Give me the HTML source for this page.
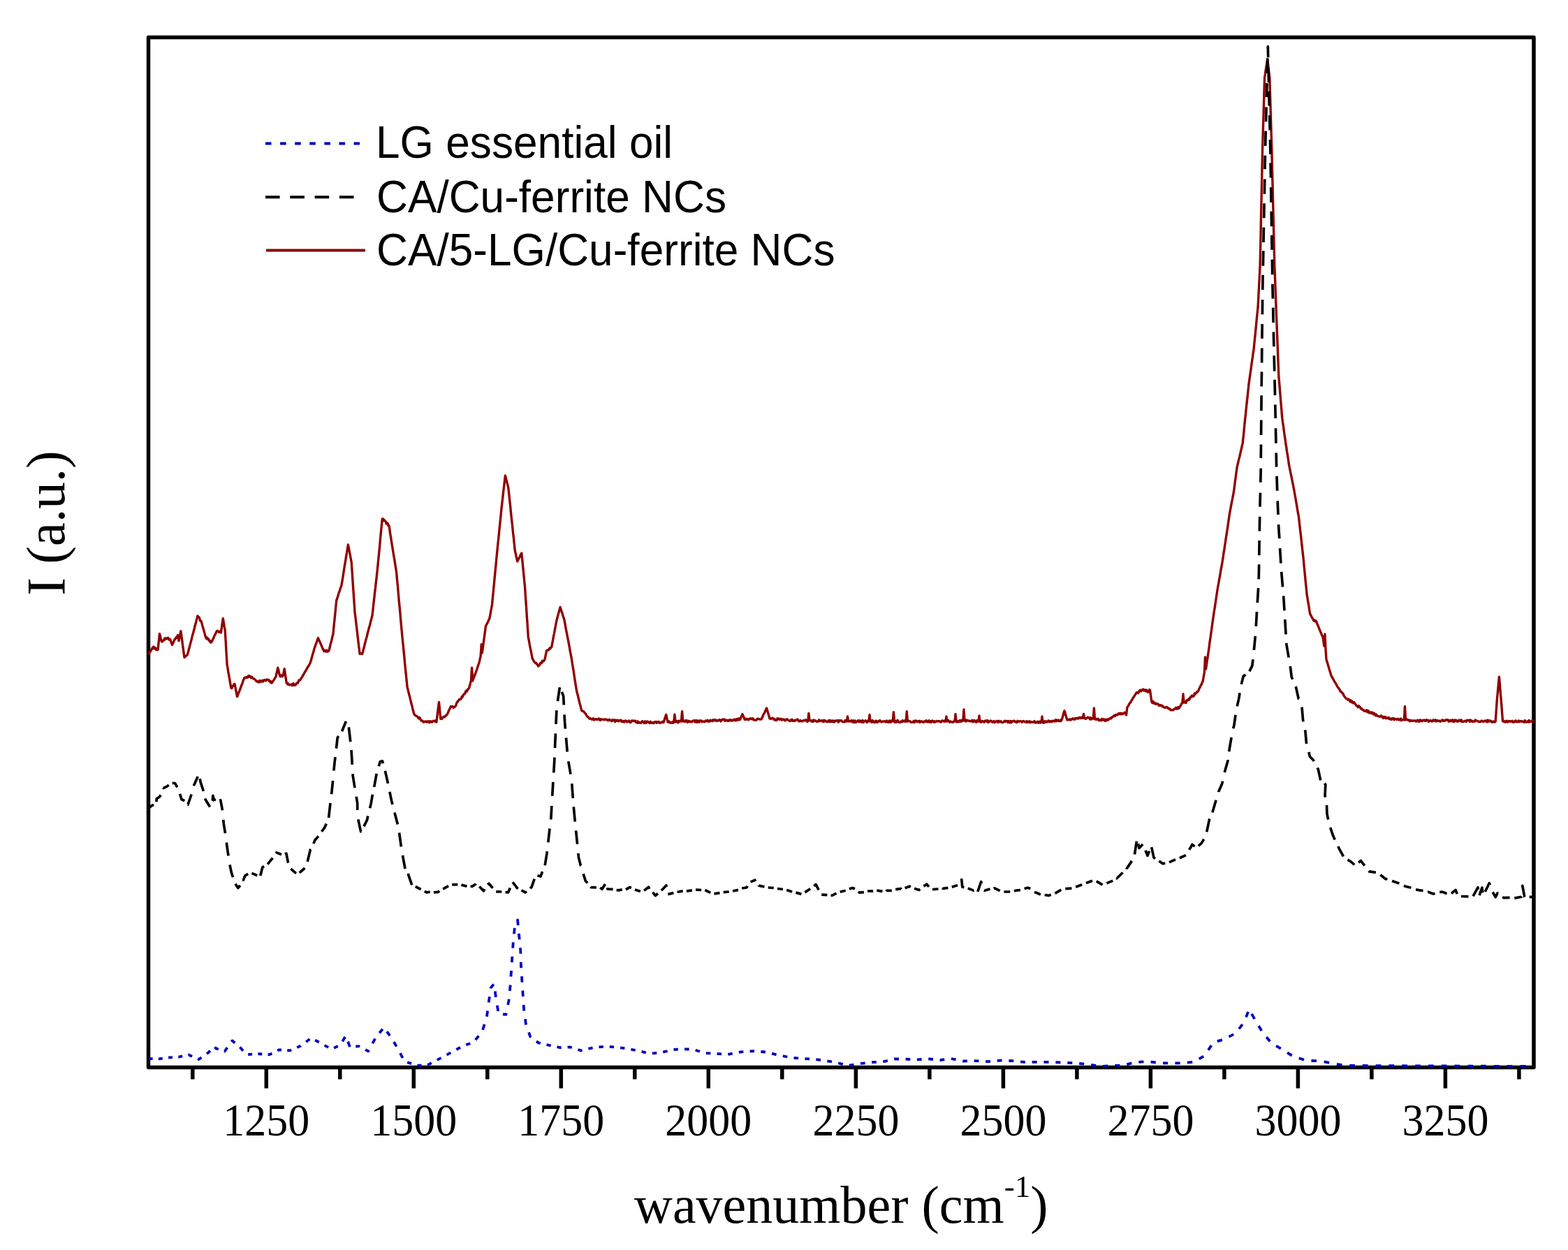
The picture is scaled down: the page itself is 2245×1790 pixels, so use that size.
<!DOCTYPE html>
<html><head><meta charset="utf-8"><title>Raman spectra</title>
<style>html,body{margin:0;padding:0;background:#fff;}body{width:2245px;height:1790px;overflow:hidden;}svg{display:block;}</style>
</head><body>
<svg width="2245" height="1790" viewBox="0 0 2245 1790">
<rect width="2245" height="1790" fill="#fff"/>
<g fill="none" stroke="#000" stroke-width="5.5" stroke-linecap="butt">
<rect x="212.5" y="53.5" width="1983.5" height="1475.0" stroke-linejoin="round"/>
<line x1="275.8" y1="1528.5" x2="275.8" y2="1545.5"/><line x1="381.3" y1="1528.5" x2="381.3" y2="1558.5"/><line x1="486.8" y1="1528.5" x2="486.8" y2="1545.5"/><line x1="592.3" y1="1528.5" x2="592.3" y2="1558.5"/><line x1="697.8" y1="1528.5" x2="697.8" y2="1545.5"/><line x1="803.3" y1="1528.5" x2="803.3" y2="1558.5"/><line x1="908.8" y1="1528.5" x2="908.8" y2="1545.5"/><line x1="1014.3" y1="1528.5" x2="1014.3" y2="1558.5"/><line x1="1119.8" y1="1528.5" x2="1119.8" y2="1545.5"/><line x1="1225.4" y1="1528.5" x2="1225.4" y2="1558.5"/><line x1="1330.9" y1="1528.5" x2="1330.9" y2="1545.5"/><line x1="1436.4" y1="1528.5" x2="1436.4" y2="1558.5"/><line x1="1541.9" y1="1528.5" x2="1541.9" y2="1545.5"/><line x1="1647.4" y1="1528.5" x2="1647.4" y2="1558.5"/><line x1="1752.9" y1="1528.5" x2="1752.9" y2="1545.5"/><line x1="1858.4" y1="1528.5" x2="1858.4" y2="1558.5"/><line x1="1963.9" y1="1528.5" x2="1963.9" y2="1545.5"/><line x1="2069.4" y1="1528.5" x2="2069.4" y2="1558.5"/><line x1="2174.9" y1="1528.5" x2="2174.9" y2="1545.5"/>
</g>
<g font-family="'Liberation Serif', 'Times New Roman', serif" font-size="62" text-anchor="middle" fill="#000">
<text transform="translate(381.3,1625.5) scale(1,1.045)">1250</text><text transform="translate(592.3,1625.5) scale(1,1.045)">1500</text><text transform="translate(803.3,1625.5) scale(1,1.045)">1750</text><text transform="translate(1014.3,1625.5) scale(1,1.045)">2000</text><text transform="translate(1225.4,1625.5) scale(1,1.045)">2250</text><text transform="translate(1436.4,1625.5) scale(1,1.045)">2500</text><text transform="translate(1647.4,1625.5) scale(1,1.045)">2750</text><text transform="translate(1858.4,1625.5) scale(1,1.045)">3000</text><text transform="translate(2069.4,1625.5) scale(1,1.045)">3250</text>
</g>
<text x="908" y="1751" font-family="'Liberation Serif', 'Times New Roman', serif" font-size="76" fill="#000">wavenumber (cm<tspan font-size="45" dy="-37">-1</tspan><tspan dy="37">)</tspan></text>
<text transform="translate(92,749) rotate(-90) scale(1,1.025)" text-anchor="middle" font-family="'Liberation Serif', 'Times New Roman', serif" font-size="77" fill="#000">I (a.u.)</text>
<g font-family="'Liberation Sans', Arial, sans-serif" font-size="62.2" fill="#000">
<text transform="translate(538,226.4) scale(1,1.042)">LG essential oil</text>
<text transform="translate(539,303.5) scale(1,1.042)">CA/Cu-ferrite NCs</text>
<text transform="translate(539,380) scale(1,1.042)">CA/5-LG/Cu-ferrite NCs</text>
</g>
<g fill="none" stroke-width="4" stroke-linejoin="round">
<line x1="380" y1="205.5" x2="515" y2="205.5" stroke="#0000c0" stroke-dasharray="8.5 12.6"/>
<line x1="380" y1="282.3" x2="507" y2="282.3" stroke="#000" stroke-dasharray="20.6 14.7"/>
<line x1="381" y1="358.5" x2="523" y2="358.5" stroke="#900000"/>
<polyline points="212.4,937.3 213.3,935.6 214.3,934.4 215.2,932.8 216.1,931.6 217.0,930.1 218.0,928.2 218.9,927.1 219.8,926.0 220.7,928.8 221.6,927.5 222.6,927.8 223.5,930.4 224.4,929.2 225.3,930.6 226.2,930.0 226.9,922.4 227.7,915.1 228.4,907.4 229.4,910.8 230.3,914.9 231.3,918.4 232.2,918.9 233.2,917.2 234.1,917.2 235.0,916.4 235.9,913.9 236.9,915.4 237.8,914.0 238.8,914.5 239.7,913.9 240.7,913.3 241.7,916.0 242.6,915.1 243.6,915.4 244.6,918.3 245.5,921.1 246.5,923.4 247.4,921.6 248.3,919.8 249.3,917.3 250.2,915.4 251.1,915.1 251.9,912.9 252.8,913.2 253.6,911.9 254.5,909.6 255.2,913.2 256.0,917.6 257.0,912.7 257.9,908.1 258.9,903.8 259.8,910.5 260.6,916.3 261.4,922.8 262.3,928.8 263.1,935.3 264.0,941.6 264.9,940.4 265.8,939.4 266.6,939.3 267.5,938.4 268.4,937.3 269.4,934.0 270.3,930.1 271.3,926.6 272.3,922.9 273.2,919.3 274.2,915.3 275.2,911.2 276.1,908.1 277.1,904.5 278.1,900.8 279.0,896.8 280.0,893.3 281.0,889.1 281.9,886.0 282.9,882.0 283.8,883.4 284.6,883.8 285.4,884.3 286.3,887.9 287.1,889.6 288.0,889.3 288.9,892.2 289.9,896.2 290.8,899.2 291.7,902.2 292.6,905.7 293.6,909.4 294.5,912.5 295.5,914.5 296.5,913.0 297.5,915.6 298.5,914.8 299.5,917.7 300.5,917.5 301.5,920.0 302.5,919.8 303.5,918.2 304.5,915.8 305.5,914.2 306.5,911.6 307.5,909.4 308.5,907.9 309.5,905.4 310.5,903.8 311.5,903.3 312.4,904.3 313.4,905.2 314.4,904.2 315.3,904.3 316.3,906.0 317.3,899.5 318.3,892.2 319.3,885.6 320.3,891.6 321.2,897.2 322.2,902.4 323.2,918.8 324.1,935.3 325.1,951.8 326.1,957.4 327.0,963.1 328.0,968.6 329.0,974.2 329.9,979.8 330.9,985.3 331.8,985.6 332.6,983.4 333.4,982.1 334.3,982.0 335.1,979.6 336.0,979.4 336.9,983.8 337.8,988.9 338.7,993.1 339.6,997.6 340.5,995.3 341.5,992.5 342.4,990.5 343.3,988.2 344.2,985.8 345.2,982.8 346.1,980.8 347.0,978.3 347.9,975.3 348.9,973.3 349.8,970.7 350.8,970.4 351.7,970.7 352.7,969.5 353.7,970.3 354.6,970.2 355.6,967.8 356.6,967.7 357.5,969.3 358.5,968.5 359.4,970.6 360.4,969.2 361.3,970.6 362.2,971.7 363.1,971.6 364.1,972.5 365.0,973.0 365.9,973.9 366.8,975.3 367.8,975.2 368.7,976.5 369.7,976.0 370.7,977.0 371.7,974.5 372.7,976.0 373.7,976.3 374.7,974.8 375.7,974.4 376.7,976.0 377.7,974.1 378.7,973.7 379.7,974.3 380.7,974.9 381.7,972.9 382.7,973.4 383.7,973.3 384.7,973.6 385.6,975.5 386.5,975.2 387.3,977.3 388.2,976.1 389.1,978.0 390.1,976.4 391.0,975.2 392.0,974.0 393.0,972.2 393.9,970.5 394.9,969.3 395.9,964.6 396.8,960.6 397.8,956.2 398.8,959.8 399.7,964.2 400.7,967.8 401.6,968.8 402.5,966.9 403.3,967.1 404.2,968.7 405.1,967.8 405.8,964.5 406.5,961.3 407.2,957.6 408.2,964.3 409.2,970.9 410.2,978.0 411.1,978.0 411.9,980.0 412.8,979.1 413.6,979.9 414.5,980.9 415.4,980.5 416.4,980.4 417.4,980.2 418.3,981.6 419.2,979.1 420.2,978.5 421.1,981.2 422.1,980.8 423.1,981.0 424.0,979.4 425.0,978.1 425.9,978.5 426.9,977.3 427.9,974.1 428.8,974.5 429.8,973.7 430.8,972.0 431.7,970.5 432.7,969.3 433.7,967.4 434.6,965.8 435.6,964.0 436.6,962.1 437.5,960.9 438.5,958.9 439.5,957.7 440.4,955.3 441.4,954.4 442.4,952.5 443.3,951.0 444.3,948.9 445.2,946.1 446.1,942.9 447.0,939.5 448.0,935.8 448.9,933.3 449.8,929.6 450.7,926.7 451.7,923.9 452.6,921.6 453.6,918.9 454.5,916.1 455.5,913.6 456.4,916.1 457.4,917.9 458.3,919.8 459.2,921.9 460.2,924.5 461.1,926.3 462.0,928.7 463.0,930.4 463.9,932.7 464.8,931.6 465.7,932.5 466.6,933.2 467.4,931.1 468.3,932.8 469.2,933.1 470.1,932.6 471.0,931.5 472.0,927.8 473.0,923.1 474.0,919.7 475.0,915.9 476.0,911.2 477.0,907.6 477.9,897.9 478.9,888.3 479.8,879.0 480.8,869.4 481.7,859.9 482.6,857.2 483.5,854.8 484.4,851.4 485.3,848.8 486.2,846.2 487.1,843.5 488.0,840.8 488.9,838.5 489.8,833.1 490.8,827.1 491.8,820.6 492.7,815.1 493.6,809.1 494.6,803.2 495.5,797.4 496.5,791.8 497.4,785.9 498.4,780.0 499.4,784.9 500.3,789.7 501.3,794.8 502.2,799.7 503.2,805.0 504.2,819.4 505.1,833.8 506.1,847.9 507.0,861.9 508.0,876.6 508.9,883.8 509.8,891.4 510.7,899.1 511.6,906.7 512.4,913.8 513.3,921.6 514.2,928.9 515.1,936.3 516.0,936.1 516.9,935.9 517.8,936.3 518.7,936.3 519.7,932.8 520.6,928.9 521.6,925.5 522.5,921.6 523.5,917.8 524.4,914.4 525.4,910.9 526.3,906.6 527.3,903.3 528.2,899.6 529.2,896.4 530.1,892.8 531.1,888.6 532.0,885.4 533.0,881.4 533.9,873.6 534.8,865.1 535.7,857.2 536.6,848.9 537.5,841.4 538.4,833.2 539.3,825.4 540.2,817.0 541.1,808.0 542.0,798.7 542.9,789.5 543.8,780.1 544.6,770.4 545.5,761.6 546.4,751.8 547.3,743.0 548.3,742.9 549.2,745.7 550.2,744.5 551.1,745.6 552.1,746.6 553.1,749.9 554.0,748.8 555.0,749.3 555.9,752.7 556.9,752.6 557.9,758.3 558.8,765.1 559.8,771.0 560.8,777.2 561.8,783.4 562.7,789.1 563.7,795.4 564.7,800.8 565.7,807.5 566.6,813.3 567.6,819.4 568.5,829.9 569.5,839.7 570.4,850.6 571.3,861.1 572.3,870.7 573.2,881.2 574.1,891.8 575.1,902.4 576.0,912.4 576.9,921.1 577.8,930.0 578.7,939.0 579.5,948.3 580.4,957.4 581.3,966.0 582.2,974.9 583.1,984.0 584.1,987.7 585.0,991.5 586.0,995.4 586.9,998.9 587.9,1003.1 588.9,1007.3 589.8,1010.6 590.8,1014.7 591.7,1018.0 592.7,1022.1 593.7,1023.5 594.6,1024.5 595.6,1025.0 596.5,1025.4 597.5,1026.1 598.4,1027.3 599.4,1028.9 600.3,1027.4 601.3,1028.1 602.2,1030.8 603.2,1032.1 604.1,1031.8 605.1,1032.3 606.0,1034.0 607.0,1034.1 608.0,1033.1 608.9,1033.2 609.9,1033.0 610.8,1034.0 611.8,1033.1 612.7,1032.8 613.7,1034.1 614.6,1034.8 615.6,1032.8 616.5,1033.9 617.5,1033.0 618.4,1034.2 619.4,1033.3 620.3,1032.3 621.3,1032.9 622.2,1032.4 623.1,1032.1 624.0,1033.7 624.9,1034.1 625.8,1026.8 626.7,1019.5 627.6,1012.4 628.5,1005.4 629.3,1013.2 630.0,1021.6 630.8,1029.3 631.7,1027.6 632.6,1029.6 633.6,1027.5 634.5,1027.2 635.4,1026.3 636.3,1026.8 637.2,1026.1 638.2,1024.8 639.1,1023.9 640.0,1023.4 640.9,1021.7 641.7,1019.9 642.6,1017.5 643.5,1015.9 644.3,1014.1 645.2,1011.8 646.2,1011.9 647.1,1011.5 648.1,1011.7 649.0,1013.4 650.0,1013.0 651.0,1012.1 651.9,1011.5 652.9,1009.8 653.8,1006.6 654.8,1005.0 655.7,1004.5 656.6,1002.7 657.5,1001.4 658.4,1001.9 659.4,1001.3 660.3,1000.4 661.2,997.4 662.1,998.2 663.0,996.0 663.9,994.3 664.9,993.5 665.8,993.3 666.7,990.2 667.7,989.1 668.6,990.1 669.5,987.4 670.5,986.4 671.4,985.7 672.2,983.1 673.0,980.5 673.7,977.2 674.5,975.0 675.0,965.5 675.6,956.3 676.2,965.6 676.7,975.0 677.6,972.6 678.5,969.9 679.4,967.8 680.3,965.7 681.2,962.8 682.1,960.5 683.0,958.0 684.0,954.7 685.0,951.8 686.0,949.0 686.7,946.1 687.4,942.7 688.1,940.0 688.7,931.7 689.2,922.8 689.8,929.3 690.3,935.0 691.2,928.2 692.0,922.6 692.9,915.7 693.8,909.6 694.6,903.2 695.5,896.6 696.4,894.7 697.2,893.3 698.1,891.5 699.0,889.9 699.8,887.7 700.7,886.2 701.7,881.4 702.6,876.5 703.5,871.2 704.5,866.0 705.4,856.3 706.4,846.2 707.3,836.8 708.2,827.0 709.1,817.6 710.1,807.8 711.0,797.9 711.9,789.0 712.8,779.7 713.7,771.2 714.6,762.2 715.5,752.9 716.4,744.6 717.3,735.4 718.2,726.3 719.1,718.4 719.9,711.6 720.8,703.3 721.7,695.9 722.5,688.7 723.4,681.0 724.3,684.4 725.1,687.7 726.0,691.2 726.8,694.3 727.7,697.7 728.7,706.6 729.6,715.5 730.6,724.5 731.5,734.2 732.5,743.3 733.5,752.2 734.4,761.4 735.4,770.1 736.3,779.1 737.3,788.4 738.2,792.2 739.0,796.5 739.9,799.6 740.8,803.9 741.8,801.9 742.8,799.7 743.8,798.2 744.8,795.8 745.8,793.8 746.8,792.0 747.8,801.7 748.7,811.6 749.7,821.5 750.6,830.9 751.6,840.8 752.5,855.4 753.5,869.1 754.4,883.6 755.4,897.7 756.3,912.4 757.3,917.2 758.3,923.0 759.3,928.1 760.3,932.8 761.3,938.0 762.3,943.4 763.2,944.3 764.1,946.5 765.1,947.9 766.0,948.9 766.9,949.6 767.8,949.5 768.8,951.4 769.7,952.0 770.6,954.1 771.6,953.1 772.5,952.2 773.5,950.0 774.4,949.1 775.4,949.6 776.4,946.3 777.3,947.5 778.3,946.7 779.2,945.8 780.2,943.4 781.0,939.3 781.8,935.5 782.6,931.5 783.5,931.1 784.4,930.7 785.3,931.1 786.2,929.7 787.0,927.9 787.9,929.0 788.8,927.3 789.7,926.7 790.6,922.0 791.5,917.4 792.4,911.9 793.3,907.8 794.2,903.0 795.1,898.0 796.0,893.3 796.9,888.5 797.8,885.3 798.6,881.9 799.5,879.0 800.4,875.4 801.2,872.7 802.1,869.5 803.0,872.4 803.9,875.0 804.9,877.9 805.8,881.0 806.7,883.8 807.6,886.2 808.6,891.1 809.6,896.9 810.5,901.9 811.5,906.6 812.5,912.1 813.5,917.2 814.5,922.2 815.5,927.8 816.4,933.4 817.4,938.0 818.4,943.4 819.3,949.4 820.2,954.9 821.1,960.1 822.0,966.4 822.8,971.8 823.7,977.8 824.6,983.2 825.5,988.7 826.4,992.5 827.3,995.7 828.2,999.7 829.1,1003.4 830.0,1007.0 830.9,1010.2 831.8,1014.0 832.7,1017.4 833.7,1018.3 834.7,1018.2 835.7,1019.0 836.7,1020.1 837.7,1021.5 838.7,1022.3 839.6,1024.3 840.6,1025.9 841.6,1026.4 842.6,1027.1 843.6,1028.8 844.6,1029.3 845.6,1028.8 846.5,1029.4 847.5,1030.3 848.5,1029.4 849.5,1028.8 850.4,1031.0 851.4,1030.6 852.4,1029.6 853.3,1029.7 854.3,1030.3 855.3,1030.6 856.2,1029.5 857.2,1029.0 858.2,1029.7 859.2,1031.5 860.1,1029.7 861.1,1030.7 862.1,1030.0 863.0,1030.1 864.0,1030.1 865.0,1030.9 865.9,1030.3 866.9,1029.9 867.9,1030.3 868.9,1030.5 869.8,1031.6 870.8,1031.7 871.8,1030.4 872.8,1030.4 873.8,1031.7 874.8,1031.6 875.8,1032.6 876.8,1030.7 877.8,1031.8 878.8,1031.8 879.7,1030.7 880.7,1033.6 881.7,1031.4 882.7,1031.1 883.7,1032.3 884.7,1031.4 885.7,1032.8 886.7,1032.0 887.7,1031.4 888.7,1031.3 889.7,1033.3 890.7,1032.0 891.7,1033.6 892.7,1032.7 893.7,1034.1 894.6,1032.3 895.6,1032.2 896.6,1032.3 897.6,1034.0 898.6,1033.5 899.6,1032.7 900.6,1032.0 901.6,1033.8 902.6,1034.7 903.6,1033.6 904.6,1031.9 905.6,1032.0 906.6,1032.3 907.6,1032.6 908.6,1032.2 909.6,1032.3 910.5,1034.2 911.5,1035.0 912.5,1032.9 913.5,1035.3 914.5,1033.8 915.5,1034.9 916.5,1035.3 917.5,1035.4 918.5,1034.1 919.5,1032.7 920.5,1033.5 921.5,1034.5 922.4,1035.5 923.4,1032.9 924.4,1033.6 925.4,1035.2 926.4,1033.0 927.4,1033.9 928.3,1033.7 929.3,1034.8 930.3,1035.5 931.3,1033.3 932.3,1035.0 933.3,1035.0 934.2,1035.3 935.2,1034.5 936.2,1035.6 937.2,1033.9 938.2,1034.1 939.2,1033.6 940.2,1035.2 941.1,1034.3 942.1,1033.7 943.1,1033.4 944.1,1035.1 945.1,1034.8 946.1,1035.1 947.0,1034.1 948.0,1034.4 949.0,1033.4 950.0,1034.5 951.0,1031.9 951.9,1028.5 952.8,1026.1 953.8,1023.4 954.5,1027.2 955.3,1030.6 956.0,1034.0 957.0,1032.8 958.0,1033.2 958.9,1035.0 959.9,1034.4 960.9,1035.1 961.9,1035.1 962.8,1033.8 963.8,1035.2 964.8,1034.0 965.3,1028.7 965.9,1023.0 966.5,1028.4 967.0,1034.0 967.9,1033.5 968.9,1032.5 969.8,1033.4 970.8,1034.9 971.7,1032.3 972.7,1033.5 973.6,1032.1 974.6,1031.9 975.5,1033.0 976.0,1026.0 976.6,1018.8 977.2,1025.7 977.7,1033.0 978.7,1031.6 979.6,1032.0 980.6,1033.4 981.6,1033.3 982.5,1031.5 983.5,1032.2 984.5,1034.4 985.5,1032.2 986.4,1033.2 987.4,1032.8 988.4,1033.8 989.3,1033.3 990.3,1033.9 991.3,1033.1 992.2,1032.1 993.2,1032.0 994.2,1031.7 995.2,1034.0 996.1,1031.8 997.1,1031.6 998.1,1034.4 999.0,1032.1 1000.0,1033.0 1001.0,1034.1 1002.0,1031.7 1003.0,1032.7 1004.0,1032.0 1005.0,1033.7 1006.0,1033.0 1007.0,1033.1 1008.0,1033.4 1009.0,1033.7 1010.0,1032.0 1011.0,1032.8 1012.0,1032.2 1013.0,1031.2 1014.0,1033.3 1015.0,1032.5 1016.0,1033.1 1017.0,1031.3 1018.0,1032.2 1019.0,1031.9 1020.0,1032.7 1021.0,1030.7 1022.0,1031.4 1023.0,1031.8 1024.0,1030.5 1025.0,1031.9 1026.0,1032.4 1027.0,1031.4 1028.0,1032.0 1029.0,1031.9 1030.0,1030.6 1031.0,1031.0 1032.0,1032.9 1033.0,1030.9 1034.0,1031.1 1035.0,1030.0 1036.0,1030.4 1037.0,1030.1 1038.0,1032.4 1039.0,1031.7 1040.0,1031.0 1041.0,1032.1 1042.0,1032.4 1043.0,1031.2 1044.0,1032.1 1045.0,1030.9 1046.0,1030.5 1047.0,1032.0 1048.0,1031.8 1049.0,1031.9 1050.0,1030.5 1051.0,1031.3 1052.0,1030.1 1053.0,1031.8 1054.0,1031.6 1055.0,1029.6 1056.0,1031.5 1057.0,1029.2 1058.0,1028.9 1059.0,1030.7 1060.0,1030.0 1061.0,1027.3 1062.0,1025.0 1063.0,1022.5 1064.0,1025.1 1065.0,1027.1 1066.0,1030.0 1067.0,1030.7 1068.0,1029.3 1069.0,1029.8 1070.0,1029.5 1071.0,1030.7 1072.0,1030.7 1073.0,1029.4 1074.0,1028.8 1075.0,1029.4 1076.0,1029.7 1077.0,1028.7 1078.0,1029.0 1079.0,1030.8 1080.0,1030.6 1081.0,1031.4 1082.0,1031.4 1083.0,1031.1 1084.0,1029.6 1085.0,1029.0 1086.0,1029.4 1087.0,1029.9 1088.0,1030.1 1089.0,1030.1 1090.0,1030.0 1091.0,1027.9 1091.9,1026.3 1092.8,1023.8 1093.8,1022.0 1094.8,1020.3 1095.7,1018.3 1096.6,1015.8 1097.6,1014.0 1098.5,1016.8 1099.4,1020.3 1100.2,1022.6 1101.1,1025.7 1102.0,1029.0 1103.0,1029.2 1104.0,1029.3 1105.0,1028.3 1106.0,1028.1 1107.0,1028.7 1108.0,1030.5 1109.0,1029.7 1110.0,1031.3 1111.0,1030.9 1112.0,1031.5 1113.0,1028.8 1114.0,1029.4 1115.0,1029.0 1116.0,1030.4 1117.0,1030.2 1118.0,1029.4 1119.0,1031.0 1120.0,1031.0 1121.0,1029.8 1122.0,1030.5 1123.0,1030.3 1124.0,1032.0 1125.0,1030.9 1126.0,1030.4 1127.0,1029.8 1128.0,1031.0 1129.0,1031.6 1129.9,1031.8 1130.9,1032.5 1131.9,1032.3 1132.9,1030.6 1133.9,1030.3 1134.9,1032.2 1135.9,1032.3 1136.9,1031.5 1137.9,1032.5 1138.9,1031.7 1139.9,1030.9 1140.9,1030.6 1141.9,1030.1 1142.9,1032.1 1143.9,1032.8 1144.9,1032.9 1145.9,1031.6 1146.9,1032.2 1147.8,1033.0 1148.8,1032.7 1149.8,1032.1 1150.8,1031.6 1151.8,1031.9 1152.8,1030.9 1153.8,1031.0 1154.8,1032.5 1155.8,1033.4 1156.8,1032.0 1157.4,1026.8 1157.9,1021.5 1158.5,1026.7 1159.0,1032.0 1160.0,1031.6 1161.0,1031.9 1162.0,1033.0 1163.0,1031.9 1163.9,1033.5 1164.9,1031.1 1165.9,1031.6 1166.9,1032.2 1167.9,1031.9 1168.9,1033.2 1169.9,1033.2 1170.9,1033.5 1171.9,1032.6 1172.8,1030.9 1173.8,1032.5 1174.8,1032.4 1175.8,1032.3 1176.8,1031.7 1177.8,1033.0 1178.8,1033.6 1179.8,1031.2 1180.8,1032.9 1181.7,1032.0 1182.7,1032.5 1183.7,1033.7 1184.7,1033.9 1185.7,1032.9 1186.7,1031.6 1187.7,1033.8 1188.7,1031.6 1189.7,1032.2 1190.6,1033.6 1191.6,1032.1 1192.6,1031.9 1193.6,1034.0 1194.6,1034.0 1195.6,1032.1 1196.6,1032.4 1197.6,1032.1 1198.6,1031.6 1199.5,1032.0 1200.5,1034.2 1201.5,1031.5 1202.5,1032.0 1203.5,1031.9 1204.5,1031.6 1205.5,1032.9 1206.5,1033.6 1207.5,1033.9 1208.4,1033.3 1209.4,1033.9 1210.4,1031.5 1211.4,1032.3 1212.4,1033.0 1213.0,1029.9 1213.5,1026.0 1214.0,1029.1 1214.6,1033.0 1215.6,1032.3 1216.6,1032.9 1217.5,1032.3 1218.5,1033.1 1219.5,1031.6 1220.5,1032.2 1221.4,1034.4 1222.4,1031.9 1223.4,1034.2 1224.4,1032.0 1225.3,1034.5 1226.3,1033.5 1227.3,1033.4 1228.3,1031.9 1229.2,1031.7 1230.2,1033.8 1231.2,1032.0 1232.2,1032.1 1233.2,1034.0 1234.1,1034.1 1235.1,1031.6 1236.1,1034.4 1237.1,1033.1 1238.0,1032.6 1239.0,1031.8 1240.0,1032.7 1241.0,1034.5 1241.9,1032.3 1242.9,1031.9 1243.9,1033.0 1244.5,1027.9 1245.0,1023.4 1245.5,1027.9 1246.1,1033.0 1247.1,1032.6 1248.1,1034.2 1249.0,1031.7 1250.0,1032.1 1251.0,1034.3 1252.0,1034.5 1252.9,1034.4 1253.9,1032.2 1254.9,1032.6 1255.9,1034.4 1256.8,1033.0 1257.8,1033.6 1258.8,1032.4 1259.8,1031.6 1260.7,1032.5 1261.7,1033.7 1262.7,1033.8 1263.7,1033.2 1264.6,1032.9 1265.6,1033.1 1266.6,1032.8 1267.6,1033.1 1268.5,1034.0 1269.5,1032.1 1270.5,1033.3 1271.5,1034.3 1272.4,1034.0 1273.4,1032.0 1274.4,1034.4 1275.4,1034.0 1276.3,1032.0 1277.3,1032.3 1278.3,1033.0 1278.9,1026.1 1279.4,1019.7 1280.0,1025.9 1280.5,1033.0 1281.5,1034.4 1282.5,1032.7 1283.4,1034.1 1284.4,1031.8 1285.4,1031.5 1286.4,1034.1 1287.4,1033.9 1288.4,1034.5 1289.3,1033.6 1290.3,1033.1 1291.3,1033.8 1292.3,1031.8 1293.3,1033.1 1294.3,1032.8 1295.2,1031.9 1296.2,1033.3 1297.2,1033.0 1297.8,1025.7 1298.3,1018.8 1298.8,1025.9 1299.4,1033.0 1300.4,1032.6 1301.4,1032.5 1302.4,1032.6 1303.4,1033.3 1304.4,1034.4 1305.3,1034.3 1306.3,1034.1 1307.3,1034.0 1308.3,1032.4 1309.3,1034.4 1310.3,1032.3 1311.3,1031.9 1312.3,1033.0 1313.3,1033.7 1314.3,1032.5 1315.3,1033.4 1316.2,1032.3 1317.2,1034.4 1318.2,1032.9 1319.2,1032.9 1320.2,1033.1 1321.2,1034.1 1322.2,1034.5 1323.2,1033.1 1324.2,1032.8 1325.2,1033.4 1326.2,1031.7 1327.1,1032.8 1328.1,1034.0 1329.1,1033.8 1330.1,1031.7 1331.1,1034.1 1332.1,1032.7 1333.1,1034.4 1334.1,1032.6 1335.1,1032.1 1336.1,1033.1 1337.1,1034.2 1338.0,1032.8 1339.0,1034.1 1340.0,1033.6 1341.0,1032.6 1342.0,1032.4 1343.0,1033.0 1344.0,1032.7 1345.0,1032.6 1346.0,1033.5 1347.0,1034.1 1348.0,1033.3 1348.9,1031.9 1349.9,1032.2 1350.9,1032.6 1351.9,1033.3 1352.9,1031.9 1353.9,1033.0 1354.5,1029.1 1355.0,1026.0 1355.5,1029.3 1356.1,1033.0 1357.1,1032.3 1358.1,1031.6 1359.0,1033.1 1360.0,1034.3 1361.0,1033.1 1362.0,1033.7 1363.0,1034.0 1364.0,1034.0 1364.9,1034.2 1365.9,1032.8 1366.9,1033.0 1367.5,1027.9 1368.0,1022.5 1368.5,1027.4 1369.1,1033.0 1370.1,1034.0 1371.1,1032.4 1372.0,1032.6 1373.0,1033.8 1374.0,1031.9 1375.0,1031.5 1376.0,1033.3 1376.9,1032.5 1377.9,1030.9 1378.9,1032.0 1379.5,1023.6 1380.0,1016.0 1380.5,1023.9 1381.1,1032.0 1382.1,1030.6 1383.1,1033.1 1384.1,1031.2 1385.1,1031.5 1386.0,1031.9 1387.0,1032.3 1388.0,1032.1 1389.0,1032.8 1390.0,1032.9 1391.0,1032.3 1392.0,1031.3 1393.0,1034.0 1394.0,1033.2 1395.0,1031.5 1396.0,1032.6 1396.9,1033.6 1397.9,1034.3 1398.9,1031.6 1399.9,1031.5 1400.9,1033.0 1401.5,1029.0 1402.0,1025.0 1402.5,1028.9 1403.1,1033.0 1404.1,1034.2 1405.1,1034.0 1406.1,1032.5 1407.1,1032.8 1408.1,1033.3 1409.1,1034.2 1410.1,1032.2 1411.1,1032.8 1412.1,1031.9 1413.1,1033.5 1414.1,1031.7 1415.1,1034.4 1416.1,1033.2 1417.1,1033.4 1418.1,1031.9 1419.1,1032.4 1420.1,1033.1 1421.1,1034.3 1422.1,1033.3 1423.1,1032.6 1424.1,1034.7 1425.0,1033.7 1426.0,1033.3 1427.0,1032.4 1428.0,1032.7 1429.0,1034.5 1430.0,1032.2 1431.0,1033.4 1432.0,1033.7 1433.0,1032.9 1434.0,1034.2 1435.0,1034.6 1436.0,1034.4 1437.0,1034.1 1438.0,1032.5 1439.0,1032.1 1440.0,1033.2 1441.0,1032.9 1442.0,1032.5 1443.0,1034.6 1444.0,1032.6 1445.0,1034.4 1446.0,1034.8 1447.0,1032.4 1448.0,1034.8 1449.0,1033.2 1450.0,1032.7 1451.0,1032.6 1452.0,1032.2 1453.0,1033.6 1454.0,1033.2 1455.0,1034.6 1456.0,1034.6 1457.0,1032.3 1458.0,1033.3 1459.0,1033.3 1460.0,1032.7 1461.0,1032.9 1462.0,1033.0 1463.0,1034.3 1464.0,1033.2 1465.0,1032.5 1466.0,1032.9 1467.0,1033.6 1468.0,1033.9 1469.0,1033.0 1469.9,1034.4 1470.9,1032.9 1471.9,1034.3 1472.9,1034.1 1473.9,1032.8 1474.9,1034.6 1475.9,1033.5 1476.9,1034.0 1477.9,1034.1 1478.9,1034.2 1479.9,1033.7 1480.9,1032.6 1481.9,1034.8 1482.9,1035.0 1483.9,1033.9 1484.9,1034.2 1485.9,1033.2 1486.9,1035.2 1487.9,1034.5 1488.9,1033.1 1489.9,1034.9 1490.9,1034.0 1491.5,1030.4 1492.0,1026.0 1492.5,1029.9 1493.1,1034.0 1494.1,1035.4 1495.1,1033.7 1496.1,1032.7 1497.1,1034.2 1498.1,1033.0 1499.1,1034.0 1500.1,1033.5 1501.1,1031.9 1502.1,1033.1 1503.1,1033.9 1504.1,1032.7 1505.1,1032.8 1506.1,1033.6 1507.0,1032.3 1508.0,1032.3 1509.0,1032.5 1510.0,1033.1 1511.0,1031.1 1512.0,1030.7 1513.0,1032.6 1514.0,1031.8 1515.0,1031.0 1516.0,1032.6 1517.0,1032.5 1518.0,1031.3 1519.0,1032.6 1520.0,1031.0 1521.0,1028.0 1522.0,1024.6 1523.0,1020.9 1524.0,1017.8 1525.0,1020.7 1526.0,1024.6 1527.0,1027.9 1528.0,1031.0 1529.0,1030.4 1530.0,1030.7 1530.9,1030.8 1531.9,1029.7 1532.9,1030.9 1533.9,1030.4 1534.8,1029.7 1535.8,1028.8 1536.8,1030.0 1537.8,1029.2 1538.8,1030.2 1539.7,1028.5 1540.7,1029.0 1541.7,1028.3 1542.7,1028.8 1543.7,1029.1 1544.6,1027.6 1545.6,1027.3 1546.6,1028.5 1547.6,1027.5 1548.5,1028.3 1549.5,1027.1 1550.5,1028.0 1551.0,1024.9 1551.6,1022.5 1552.1,1025.3 1552.7,1028.0 1553.7,1029.3 1554.6,1029.3 1555.6,1028.3 1556.6,1028.0 1557.5,1027.1 1558.5,1027.8 1559.5,1028.0 1560.5,1029.9 1561.4,1027.5 1562.4,1030.1 1563.4,1028.8 1564.3,1028.7 1565.3,1029.0 1565.9,1021.3 1566.4,1014.0 1567.0,1022.4 1567.5,1030.0 1568.5,1029.1 1569.5,1030.3 1570.4,1030.2 1571.4,1029.3 1572.4,1029.5 1573.4,1031.8 1574.4,1031.3 1575.3,1031.2 1576.3,1031.7 1577.3,1029.4 1578.3,1031.2 1579.2,1031.4 1580.2,1029.9 1581.2,1030.7 1582.2,1032.3 1583.2,1030.4 1584.1,1031.8 1585.1,1030.0 1586.1,1031.1 1587.0,1030.9 1588.0,1029.1 1588.9,1029.1 1589.9,1028.1 1590.8,1028.9 1591.8,1027.8 1592.7,1026.4 1593.7,1026.3 1594.6,1025.1 1595.6,1024.6 1596.5,1025.4 1597.5,1023.5 1598.5,1024.0 1599.5,1023.9 1600.5,1023.0 1601.4,1021.6 1602.4,1021.7 1603.4,1022.8 1604.3,1021.2 1605.3,1022.6 1606.3,1021.5 1607.3,1022.6 1608.2,1021.9 1609.2,1021.3 1610.2,1020.3 1611.0,1021.4 1611.8,1022.3 1612.6,1023.9 1613.2,1018.6 1613.8,1013.1 1614.7,1011.8 1615.7,1010.5 1616.6,1008.4 1617.5,1006.9 1618.5,1006.1 1619.4,1004.4 1620.3,1002.7 1621.2,1001.4 1622.2,999.4 1623.1,998.3 1624.0,996.9 1625.0,995.4 1625.9,993.8 1626.9,992.2 1627.9,991.5 1628.9,992.3 1629.9,992.5 1630.9,989.7 1631.8,988.7 1632.8,988.3 1633.8,989.8 1634.8,988.0 1635.8,987.6 1636.8,987.1 1637.7,989.1 1638.6,988.4 1639.5,987.9 1640.4,989.7 1641.3,988.0 1642.2,989.4 1643.1,991.1 1644.0,991.0 1644.8,989.0 1645.7,987.6 1646.5,988.0 1647.3,993.5 1648.0,998.9 1648.8,1004.6 1649.8,1006.5 1650.8,1004.3 1651.7,1006.9 1652.7,1006.1 1653.7,1007.8 1654.7,1007.2 1655.7,1008.3 1656.7,1007.7 1657.6,1007.9 1658.6,1009.0 1659.6,1010.5 1660.6,1009.6 1661.6,1009.7 1662.5,1010.7 1663.5,1010.2 1664.5,1011.9 1665.5,1011.7 1666.4,1012.8 1667.3,1013.1 1668.3,1013.6 1669.2,1013.0 1670.2,1012.5 1671.2,1012.9 1672.1,1014.2 1673.0,1014.1 1674.0,1015.5 1675.0,1015.0 1675.9,1016.8 1676.8,1016.7 1677.8,1016.7 1678.8,1016.9 1679.8,1016.8 1680.8,1015.8 1681.8,1015.2 1682.8,1014.5 1683.7,1013.4 1684.7,1015.3 1685.7,1014.1 1686.7,1012.6 1687.7,1014.7 1688.7,1013.1 1689.5,1011.8 1690.4,1010.4 1691.2,1008.8 1692.1,1007.1 1692.9,1006.0 1693.5,1000.3 1694.0,993.8 1694.5,999.6 1695.1,1006.0 1696.0,1005.5 1697.0,1005.8 1698.0,1006.5 1698.9,1003.0 1699.9,1003.3 1700.8,1002.5 1701.8,1000.9 1702.7,1002.1 1703.7,999.8 1704.7,997.8 1705.6,998.3 1706.6,996.1 1707.5,997.4 1708.5,997.1 1709.5,996.3 1710.4,992.9 1711.4,994.0 1712.3,992.1 1713.3,991.8 1714.2,990.4 1715.2,990.2 1716.2,988.0 1717.1,985.8 1718.1,984.2 1719.1,981.7 1720.1,980.5 1721.0,977.6 1722.0,976.0 1722.8,972.1 1723.6,967.1 1724.4,963.0 1725.0,951.6 1725.5,941.0 1726.0,949.7 1726.6,958.0 1727.5,951.7 1728.4,945.6 1729.4,939.0 1730.3,932.7 1731.3,925.8 1732.2,918.4 1733.2,911.9 1734.2,904.8 1735.1,898.2 1736.1,890.8 1737.1,883.7 1738.1,877.1 1739.1,871.0 1740.1,864.6 1741.1,857.5 1742.1,851.1 1743.1,844.3 1744.1,838.7 1745.1,832.9 1746.1,827.3 1747.1,821.8 1748.1,815.6 1749.1,810.2 1750.1,804.7 1751.0,798.9 1751.9,792.4 1752.9,786.6 1753.8,780.3 1754.7,774.5 1755.7,767.8 1756.7,761.4 1757.7,754.9 1758.6,748.5 1759.6,741.5 1760.6,734.9 1761.6,729.6 1762.5,724.7 1763.5,719.4 1764.5,714.5 1765.4,709.8 1766.4,704.7 1767.3,697.8 1768.2,690.5 1769.2,683.5 1770.1,676.4 1771.0,669.8 1771.9,665.6 1772.8,662.0 1773.7,657.9 1774.6,654.6 1775.6,650.5 1776.5,646.4 1777.4,642.6 1778.3,638.4 1779.2,634.9 1780.1,626.4 1781.0,617.7 1781.8,608.6 1782.7,600.0 1783.6,591.6 1784.5,582.5 1785.5,573.8 1786.4,565.2 1787.3,556.6 1788.2,548.2 1789.2,541.2 1790.2,534.2 1791.2,527.2 1792.2,519.6 1793.2,513.1 1794.2,505.8 1795.2,498.7 1796.2,488.7 1797.2,478.9 1798.2,468.9 1799.1,458.8 1800.1,449.1 1801.1,439.3 1802.1,419.7 1803.1,400.0 1804.1,380.0 1805.0,338.6 1805.8,296.2 1806.7,255.1 1807.6,213.0 1808.6,179.3 1809.6,145.2 1810.6,111.0 1811.4,106.2 1812.2,100.1 1813.1,95.4 1813.9,90.2 1814.7,84.6 1815.5,90.9 1816.2,97.9 1817.0,104.8 1817.8,111.0 1818.8,144.8 1819.8,179.3 1820.8,213.0 1821.8,255.1 1822.8,296.4 1823.8,337.9 1824.8,380.0 1825.8,406.1 1826.8,433.0 1827.8,459.1 1828.8,485.4 1829.8,511.7 1830.8,538.3 1831.8,550.1 1832.8,562.4 1833.7,573.7 1834.7,585.3 1835.7,597.6 1836.5,604.2 1837.4,609.9 1838.2,616.1 1839.1,622.9 1840.0,628.5 1840.8,634.9 1841.7,640.0 1842.5,646.3 1843.4,651.2 1844.3,656.7 1845.1,662.9 1846.0,668.0 1846.9,672.3 1847.9,677.5 1848.8,681.6 1849.7,686.1 1850.6,690.6 1851.6,695.5 1852.5,700.0 1853.5,705.7 1854.5,711.2 1855.5,717.0 1856.4,722.4 1857.4,728.6 1858.4,734.3 1859.4,739.6 1860.4,748.8 1861.4,757.8 1862.4,766.1 1863.4,775.3 1864.4,784.2 1865.4,793.1 1866.4,802.4 1867.3,812.6 1868.3,822.3 1869.2,832.1 1870.2,841.6 1871.1,851.3 1872.0,856.5 1872.9,862.4 1873.9,867.6 1874.8,874.0 1875.7,879.2 1876.6,880.5 1877.4,882.1 1878.3,884.3 1879.1,885.2 1880.0,887.0 1881.0,889.0 1882.0,888.0 1883.0,889.8 1884.0,888.9 1885.0,890.8 1885.9,893.5 1886.9,895.4 1887.8,897.7 1888.8,900.3 1889.7,902.5 1890.6,904.6 1891.6,906.8 1892.5,909.5 1893.5,911.3 1894.4,914.1 1895.1,919.9 1895.8,925.0 1896.4,916.4 1896.9,908.0 1897.5,918.7 1898.0,930.0 1899.0,944.4 1900.0,947.6 1901.0,950.7 1902.0,954.2 1903.0,957.7 1904.0,960.9 1905.0,964.1 1906.0,967.6 1906.9,969.0 1907.9,970.8 1908.8,972.7 1909.7,974.1 1910.7,976.0 1911.6,977.4 1912.5,978.7 1913.4,980.3 1914.4,982.6 1915.3,983.9 1916.3,985.2 1917.2,986.2 1918.2,988.0 1919.2,990.3 1920.1,990.2 1921.1,991.5 1922.1,992.9 1923.0,993.2 1924.0,996.1 1925.0,997.3 1925.9,998.6 1926.9,1000.0 1927.9,1000.4 1928.9,1000.9 1929.9,1002.1 1930.9,1001.1 1931.9,1002.5 1932.9,1004.6 1933.9,1002.7 1934.9,1005.6 1935.9,1004.1 1936.9,1006.7 1937.9,1005.7 1938.9,1005.8 1939.9,1007.9 1940.9,1008.4 1941.8,1010.2 1942.8,1010.9 1943.7,1011.8 1944.6,1012.8 1945.5,1010.8 1946.5,1012.5 1947.4,1012.5 1948.3,1014.4 1949.2,1015.6 1950.2,1015.1 1951.1,1016.4 1952.1,1017.0 1953.0,1018.0 1954.0,1017.5 1954.9,1018.5 1955.9,1017.9 1956.8,1016.9 1957.8,1019.8 1958.8,1017.8 1959.7,1018.2 1960.6,1020.9 1961.6,1020.3 1962.6,1020.0 1963.6,1021.6 1964.6,1020.1 1965.6,1021.0 1966.6,1022.9 1967.6,1021.3 1968.6,1023.1 1969.5,1024.8 1970.5,1023.0 1971.5,1024.8 1972.5,1025.4 1973.5,1025.4 1974.5,1026.2 1975.5,1026.4 1976.5,1026.2 1977.5,1024.9 1978.5,1025.7 1979.5,1026.9 1980.4,1028.4 1981.4,1026.4 1982.4,1027.7 1983.4,1026.5 1984.4,1028.8 1985.4,1027.8 1986.4,1028.3 1987.4,1028.9 1988.3,1027.5 1989.3,1029.5 1990.3,1029.9 1991.3,1029.2 1992.2,1030.4 1993.2,1028.7 1994.2,1028.6 1995.1,1028.5 1996.0,1030.8 1997.0,1029.5 1998.0,1029.4 1998.9,1029.9 1999.9,1030.5 2000.8,1029.4 2001.8,1029.5 2002.7,1030.9 2003.7,1031.0 2004.6,1029.6 2005.6,1029.0 2006.5,1031.7 2007.5,1031.2 2008.4,1030.8 2009.4,1030.3 2010.3,1030.7 2010.9,1021.5 2011.4,1011.4 2012.0,1021.1 2012.5,1031.0 2013.5,1030.2 2014.5,1030.0 2015.5,1030.8 2016.5,1031.6 2017.5,1031.0 2018.5,1032.8 2019.5,1032.0 2020.5,1031.5 2021.4,1032.2 2022.4,1032.1 2023.4,1032.2 2024.4,1031.9 2025.4,1032.0 2026.4,1032.0 2027.4,1033.1 2028.4,1032.2 2029.4,1031.3 2030.4,1033.1 2031.4,1031.6 2032.4,1033.2 2033.4,1030.9 2034.4,1032.2 2035.4,1032.0 2036.4,1032.8 2037.4,1031.3 2038.4,1031.5 2039.4,1031.1 2040.4,1032.4 2041.4,1032.4 2042.4,1030.7 2043.4,1031.2 2044.4,1031.3 2045.4,1033.6 2046.3,1032.1 2047.3,1032.4 2048.3,1031.6 2049.3,1032.7 2050.3,1033.1 2051.3,1032.7 2052.3,1030.7 2053.3,1032.0 2054.3,1032.2 2055.3,1030.8 2056.3,1033.1 2057.3,1031.7 2058.3,1031.6 2059.3,1032.6 2060.3,1032.5 2061.3,1032.2 2062.3,1033.3 2063.3,1032.3 2064.3,1031.7 2065.3,1030.9 2066.3,1032.4 2067.3,1031.8 2068.3,1032.3 2069.3,1031.7 2070.3,1030.7 2071.3,1030.8 2072.3,1031.2 2073.3,1031.0 2074.3,1033.3 2075.3,1032.4 2076.3,1031.4 2077.3,1032.8 2078.3,1032.6 2079.3,1030.9 2080.3,1033.0 2081.2,1031.4 2082.2,1033.7 2083.2,1031.1 2084.2,1031.6 2085.2,1031.4 2086.2,1033.3 2087.2,1033.2 2088.2,1032.4 2089.2,1031.1 2090.2,1032.0 2091.2,1032.8 2092.2,1030.9 2093.2,1033.5 2094.2,1033.2 2095.2,1033.5 2096.2,1032.8 2097.2,1032.6 2098.2,1032.2 2099.2,1033.6 2100.2,1031.5 2101.2,1031.7 2102.2,1031.1 2103.2,1031.3 2104.2,1033.2 2105.2,1031.1 2106.2,1033.1 2107.2,1032.0 2108.2,1033.5 2109.2,1033.2 2110.2,1033.0 2111.2,1033.4 2112.2,1031.1 2113.2,1031.7 2114.2,1032.1 2115.2,1032.3 2116.2,1033.0 2117.2,1033.6 2118.2,1033.2 2119.2,1033.8 2120.2,1033.1 2121.2,1032.1 2122.2,1032.6 2123.2,1033.4 2124.2,1033.6 2125.2,1032.2 2126.2,1032.2 2127.2,1033.0 2128.2,1031.9 2129.2,1033.9 2130.2,1031.2 2131.2,1033.2 2132.2,1032.7 2133.2,1031.9 2134.2,1033.0 2135.2,1032.7 2136.2,1034.2 2137.2,1034.0 2138.2,1033.1 2139.2,1034.0 2140.2,1034.0 2141.2,1032.9 2142.0,1021.6 2142.7,1011.3 2143.5,1000.0 2144.5,990.0 2145.4,979.8 2146.4,969.1 2147.3,979.6 2148.1,989.6 2149.0,1000.0 2149.9,1010.7 2150.7,1022.1 2151.6,1032.9 2152.6,1032.0 2153.6,1033.7 2154.6,1033.1 2155.5,1033.9 2156.5,1032.5 2157.5,1032.3 2158.5,1034.1 2159.5,1033.4 2160.5,1032.5 2161.5,1033.1 2162.5,1032.7 2163.4,1033.3 2164.4,1033.0 2165.4,1032.3 2166.4,1034.3 2167.4,1034.1 2168.4,1033.7 2169.4,1032.2 2170.3,1032.0 2171.3,1033.6 2172.3,1033.9 2173.3,1033.4 2174.3,1032.0 2175.3,1033.6 2176.3,1033.0 2177.3,1032.5 2178.2,1033.2 2179.2,1032.7 2180.2,1033.3 2181.2,1033.7 2182.2,1034.3 2183.2,1031.7 2184.2,1033.1 2185.1,1034.2 2186.1,1033.4 2187.1,1033.1 2188.1,1034.0 2189.1,1031.5 2190.1,1033.8 2191.1,1033.3 2192.1,1033.2 2193.0,1032.3 2194.0,1033.3 2195.0,1031.8 2196.0,1032.9" stroke="#900000" stroke-width="3.4"/>
<path d="M212.5 1157.7 L214.1 1156.2 L217.9 1153.1 L220.2 1152.8 M223.8 1148.3 L224.3 1143.8 L228.8 1140.7 L230.0 1138.3 M233.8 1128.2 L233.9 1128.5 L238.4 1126.6 L241.7 1124.2 M246.7 1121.4 L250.5 1121.5 L253.8 1127.3 M257.5 1136.9 L260.1 1144.8 L264.3 1146.7 M268.9 1152.0 L269.1 1152.1 L274.1 1137.5 M277.2 1125.2 L278.1 1123.5 L283.3 1112.0 M286.3 1115.3 L287.0 1119.7 L290.9 1131.5 L291.1 1133.0 M293.8 1143.4 L294.0 1144.7 L300.6 1155.5 M304.1 1146.9 L304.3 1146.6 L304.9 1139.4 L306.2 1145.2 L308.9 1145.4 M314.1 1146.2 L315.8 1145.8 L318.5 1160.4 M319.8 1173.9 L320.3 1179.7 L322.5 1193.1 M324.3 1206.6 L325.4 1214.7 L327.0 1225.5 M329.0 1238.4 L331.2 1248.9 L333.5 1256.3 M337.0 1265.8 L340.8 1271.6 L343.9 1268.0 M348.3 1259.9 L348.4 1260.3 L351.0 1253.8 L355.2 1251.3 M360.4 1250.4 L368.3 1253.8 M372.8 1254.0 L375.9 1241.6 L378.2 1240.7 M383.2 1237.6 L388.7 1230.7 L390.5 1228.7 M395.1 1222.0 L395.8 1220.9 L403.0 1223.8 M408.0 1223.1 L409.9 1222.1 L412.6 1235.7 M416.4 1244.1 L423.9 1250.7 M428.8 1249.9 L435.4 1244.0 L436.3 1242.8 M440.2 1234.0 L444.4 1216.6 L444.8 1216.0 M448.9 1208.2 L450.8 1203.3 L455.9 1197.4 M460.5 1190.8 L464.4 1185.6 L467.3 1179.6 M470.6 1171.0 L473.0 1150.0 M474.6 1137.3 L475.0 1133.8 L476.6 1118.0 M477.9 1103.6 L479.1 1091.6 L480.0 1084.1 M481.5 1071.7 L483.2 1056.3 L485.0 1054.3 M489.6 1047.3 L495.4 1032.9 M499.3 1041.4 L499.5 1042.6 L501.8 1062.3 M503.0 1074.1 L504.3 1094.9 M505.1 1108.3 L505.2 1110.8 L508.0 1128.2 M510.1 1140.7 L511.7 1149.9 L511.7 1159.9 M512.8 1173.3 L516.6 1190.9 L516.9 1190.7 M521.0 1183.3 L525.5 1174.3 L526.8 1168.5 M529.6 1157.2 L531.2 1150.6 L533.4 1137.8 M535.7 1127.0 L539.2 1107.9 M542.3 1097.3 L544.3 1090.5 L547.5 1089.8 L548.4 1093.3 M551.4 1103.8 L552.4 1108.2 L555.5 1121.9 M557.9 1133.8 L560.6 1146.6 L562.0 1152.0 M564.9 1163.5 L569.4 1180.5 M571.6 1192.6 L574.4 1212.5 M576.5 1224.8 L580.0 1244.1 M584.3 1251.0 L585.0 1253.6 L589.8 1267.3 M594.8 1269.5 L602.7 1273.6 M607.8 1276.3 L611.1 1278.0 L615.8 1277.1 M621.0 1277.8 L627.4 1277.4 L629.1 1275.7 M634.2 1273.2 L642.1 1268.6 M647.2 1266.8 L655.3 1266.6 M660.5 1267.1 L668.5 1269.3 M673.7 1269.1 L676.2 1269.3 L681.1 1265.9 L681.4 1265.5 M686.3 1269.5 L692.5 1275.9 L693.8 1273.1 M698.3 1267.0 L699.9 1265.3 L705.5 1271.8 M710.3 1276.8 L718.3 1277.0 M723.5 1277.7 L727.6 1277.9 L730.4 1271.4 M734.1 1263.3 L741.4 1272.8 M746.5 1274.9 L752.3 1278.0 L754.3 1276.9 M759.1 1272.3 L761.2 1270.1 L765.2 1258.7 M769.4 1253.8 L774.0 1255.0 L776.6 1248.2 M780.2 1239.3 L782.9 1222.8 L783.3 1219.1 M784.8 1206.2 L787.1 1186.5 M788.6 1173.5 L788.9 1171.9 L789.9 1154.0 M790.7 1139.8 L790.8 1138.7 L791.9 1119.9 M792.8 1106.5 L793.8 1088.3 L794.0 1084.6 M794.5 1071.2 L795.4 1050.3 M796.0 1036.8 L796.8 1019.5 L797.1 1017.2 M798.6 1004.1 L798.8 1001.5 L801.4 984.2 M804.4 990.9 L806.7 996.9 L807.3 1009.5 M808.0 1023.3 L808.6 1033.7 L809.4 1043.7 M810.5 1056.5 L812.2 1076.5 M813.8 1090.3 L817.0 1108.8 M818.8 1122.2 L820.3 1143.1 M821.3 1155.4 L821.5 1157.5 L823.3 1176.6 M824.6 1189.4 L826.4 1206.7 L826.6 1208.7 M827.9 1221.8 L828.4 1227.6 L831.4 1239.3 L831.9 1239.8 M835.2 1251.4 L838.3 1261.4 L841.2 1264.5 M845.9 1269.8 L846.2 1270.6 L853.9 1270.8 M859.1 1271.3 L862.0 1273.2 L866.5 1266.0 M869.7 1271.3 L870.0 1273.1 L877.6 1273.3 M882.7 1274.6 L885.8 1274.9 L890.8 1273.9 M896.0 1273.8 L901.4 1270.6 L903.9 1271.5 M909.0 1274.0 L917.0 1276.6 M922.1 1275.4 L928.7 1270.3 L929.8 1272.9 M934.5 1277.7 L938.4 1282.5 L942.0 1279.4 M946.9 1275.3 L954.0 1267.9 L954.2 1269.9 M956.4 1280.6 L964.4 1278.6 M969.6 1277.5 L977.7 1275.9 M982.9 1276.1 L990.9 1274.9 M996.1 1274.1 L1004.2 1274.5 M1009.4 1274.5 L1017.3 1278.4 M1022.5 1279.8 L1030.5 1278.6 M1035.7 1277.7 L1043.8 1277.0 M1049.0 1276.0 L1057.0 1274.4 M1062.2 1272.0 L1069.0 1271.0 L1070.0 1268.7 M1074.6 1262.9 L1082.5 1259.7 M1086.5 1267.9 L1086.5 1268.1 L1094.5 1270.0 M1099.7 1271.0 L1107.8 1271.5 M1112.9 1272.5 L1121.0 1273.5 M1126.2 1274.5 L1134.2 1277.0 M1139.4 1278.1 L1147.4 1280.4 M1152.4 1277.9 L1160.2 1272.8 M1165.2 1268.7 L1168.3 1266.6 L1172.1 1274.4 M1176.3 1281.2 L1184.4 1281.7 M1189.6 1282.3 L1191.7 1282.1 L1197.6 1279.1 M1202.7 1277.3 L1210.7 1275.2 M1215.9 1272.9 L1220.9 1271.5 L1223.9 1273.0 M1228.9 1276.9 L1230.7 1278.2 L1236.9 1277.7 M1242.1 1276.0 L1250.2 1276.1 L1250.2 1276.1 M1255.4 1275.2 L1263.5 1276.4 M1268.8 1276.5 L1269.6 1275.4 L1276.9 1275.4 M1282.2 1273.7 L1290.0 1272.7 L1290.4 1273.4 M1295.6 1271.8 L1302.0 1269.2 L1303.8 1270.3 M1309.1 1272.3 L1315.9 1274.4 L1317.3 1273.1 M1322.4 1269.1 L1326.9 1266.2 L1330.0 1269.9 M1335.0 1273.6 L1343.5 1273.0 M1348.9 1272.0 L1349.8 1272.4 L1357.4 1271.4 M1362.8 1270.2 L1369.8 1268.1 L1371.1 1267.7 M1375.9 1260.6 L1376.8 1259.6 L1377.8 1270.1 L1380.3 1271.0 M1385.8 1272.0 L1393.7 1275.1 L1394.4 1274.7 M1399.8 1276.8 L1404.7 1262.7 L1405.3 1265.1 M1409.2 1274.8 L1409.7 1275.3 L1417.6 1272.9 M1423.2 1272.5 L1423.6 1271.8 L1431.8 1275.6 M1437.4 1277.0 L1437.6 1277.0 L1446.3 1277.0 M1452.0 1276.0 L1455.5 1275.0 L1460.9 1274.7 M1466.6 1272.5 L1471.5 1271.2 L1475.4 1272.5 M1481.0 1277.4 L1485.5 1279.0 L1489.9 1281.1 M1495.7 1281.5 L1501.4 1282.4 L1504.7 1281.3 M1510.5 1279.3 L1519.4 1274.2 M1525.3 1272.6 L1534.4 1272.1 M1540.2 1270.2 L1549.2 1266.7 M1555.0 1264.6 L1564.0 1261.2 M1569.8 1261.8 L1578.6 1267.2 M1584.4 1264.9 L1593.3 1261.1 M1599.0 1257.5 L1599.1 1257.8 L1607.5 1249.5 M1612.9 1244.7 L1613.1 1244.0 L1620.5 1232.9 M1624.5 1223.5 L1627.4 1204.7 M1629.6 1208.2 L1631.0 1214.5 L1636.2 1208.9 M1640.0 1217.8 L1643.0 1225.4 L1645.5 1218.6 M1648.7 1213.1 L1652.0 1228.0 L1653.8 1229.8 M1659.4 1232.9 L1665.0 1236.8 L1668.3 1236.1 M1674.1 1234.8 L1680.9 1231.6 L1683.2 1231.4 M1688.9 1228.7 L1697.9 1224.6 M1702.7 1216.9 L1707.0 1209.3 L1710.4 1212.2 M1715.9 1211.5 L1720.3 1207.4 L1723.7 1201.7 M1727.7 1191.3 L1731.4 1174.1 L1732.0 1172.5 M1735.9 1163.4 L1739.8 1150.0 L1741.1 1145.7 M1744.6 1134.2 L1744.7 1133.7 L1749.6 1122.6 L1750.6 1118.6 M1753.3 1106.1 L1758.0 1089.3 L1758.1 1088.2 M1759.7 1076.3 L1760.1 1073.4 L1763.1 1056.0 M1765.7 1043.3 L1767.0 1038.4 L1769.0 1023.8 M1771.3 1011.4 L1774.0 999.2 L1775.0 992.2 M1777.3 979.9 L1780.3 968.0 L1783.6 966.4 M1788.9 961.4 L1792.8 953.5 L1794.0 944.3 M1795.4 930.9 L1797.3 910.8 M1798.3 896.9 L1799.5 876.1 M1800.3 863.1 L1801.6 842.2 M1802.2 829.4 L1802.6 808.3 M1802.8 795.1 L1803.1 774.0 M1803.3 760.6 L1803.7 739.9 M1804.0 725.6 L1804.1 719.7 L1804.5 705.6 M1804.8 690.8 L1805.1 677.1 L1805.2 670.6 M1805.3 656.1 L1805.5 636.4 M1805.6 623.0 L1805.8 601.6 M1805.9 588.2 L1806.0 578.3 L1806.1 566.3 M1806.2 553.4 L1806.5 532.4 M1806.6 519.4 L1806.8 498.4 M1806.9 484.9 L1807.0 479.0 L1807.2 464.0 M1807.4 450.2 L1807.6 429.2 M1807.8 415.0 L1808.0 399.0 L1808.1 393.8 M1808.4 380.7 L1808.8 359.3 M1809.0 347.0 L1809.4 325.6 M1809.7 312.2 L1810.1 291.2 M1810.4 277.8 L1810.8 256.5 M1811.0 242.3 L1811.4 222.6 M1811.7 209.0 L1812.2 187.6 M1812.6 174.2 L1813.1 153.4 M1813.4 139.0 L1814.0 119.1 M1814.3 104.9 L1814.8 83.6 M1815.2 70.4 L1815.3 66.7 L1815.7 82.3 M1816.0 96.6 L1816.5 118.0 M1816.8 130.7 L1817.3 151.5 M1817.7 165.1 L1818.2 186.4 M1818.5 200.0 L1818.8 213.2 L1818.9 220.8 M1819.1 233.4 L1819.5 254.5 M1819.7 268.2 L1820.0 289.9 M1820.2 302.7 L1820.6 324.1 M1820.8 336.7 L1821.1 357.8 M1821.4 371.6 L1821.7 393.3 M1821.9 406.8 L1822.4 427.7 M1822.7 440.6 L1823.1 462.0 M1823.4 475.4 L1823.9 496.3 M1824.2 509.3 L1824.7 531.5 M1825.0 543.8 L1825.5 566.1 M1825.8 579.5 L1826.2 599.0 M1826.5 613.2 L1826.9 634.7 M1827.2 648.5 L1827.6 668.6 M1828.0 681.8 L1828.7 702.7 M1829.2 717.3 L1830.0 737.0 M1830.5 751.1 L1831.8 771.2 M1832.6 785.2 L1833.9 806.7 M1834.7 818.8 L1836.5 840.5 M1837.7 853.3 L1837.8 855.5 L1839.0 874.4 M1839.8 887.0 L1839.9 889.0 L1841.1 908.3 M1841.9 920.9 L1842.0 923.2 L1845.1 941.5 M1847.3 954.1 L1849.3 969.7 L1850.8 972.8 M1855.0 983.1 L1855.6 984.4 L1859.2 1000.5 L1859.8 1000.9 M1863.8 1012.8 L1864.1 1013.8 L1865.5 1030.1 L1865.9 1033.4 M1868.5 1045.4 L1869.0 1048.1 L1870.4 1063.9 L1870.7 1065.2 M1873.9 1077.0 L1875.3 1083.2 L1880.2 1088.1 L1881.4 1090.1 M1886.1 1099.5 L1887.4 1101.9 L1890.7 1117.3 M1896.4 1121.8 L1897.8 1123.5 L1897.1 1139.1 L1897.5 1141.6 M1899.5 1153.0 L1900.0 1165.7 L1901.7 1173.6 M1904.7 1185.0 L1908.2 1195.6 L1911.2 1202.5 M1915.8 1212.0 L1917.1 1214.8 L1923.0 1225.7 L1923.3 1226.4 M1929.5 1231.1 L1934.9 1234.5 L1939.2 1238.5 M1945.1 1235.3 L1948.3 1232.5 L1953.8 1239.7 M1959.5 1247.4 L1960.1 1247.9 L1969.9 1249.4 M1976.4 1252.8 L1983.9 1258.8 L1986.5 1258.5 M1993.1 1261.5 L2001.7 1264.5 L2003.4 1265.1 M2010.1 1268.2 L2012.1 1269.3 L2020.4 1271.3 M2027.1 1273.9 L2037.5 1275.6 M2044.2 1277.4 L2044.7 1277.2 L2052.2 1279.9 L2054.5 1279.2 M2061.2 1277.4 L2065.5 1277.3 L2071.5 1279.7 M2077.9 1279.5 L2084.1 1274.4 L2086.3 1280.1 M2092.0 1283.5 L2102.5 1283.8 M2109.1 1283.4 L2116.0 1270.8 L2116.3 1273.6 M2118.1 1282.2 L2121.9 1271.1 L2122.8 1278.3 M2126.3 1277.0 L2132.3 1264.6 L2133.2 1267.4 M2137.2 1277.5 L2141.2 1284.7 L2144.2 1278.9 L2145.0 1279.4 M2151.3 1284.5 L2153.1 1285.6 L2161.6 1285.4 M2168.3 1286.1 L2178.3 1284.2 L2178.4 1283.7 M2179.6 1270.6 L2179.8 1268.4 L2182.8 1284.3 L2182.9 1284.4 M2189.7 1284.4 L2196.0 1284.6" stroke="#000" stroke-width="3.7"/>
<path d="M212.7 1516.0 L218.6 1516.2 M226.9 1516.4 L227.3 1516.4 L232.8 1515.6 M241.1 1514.5 L247.0 1514.1 M255.3 1513.6 L255.5 1513.6 L261.2 1512.4 M269.4 1510.6 L270.1 1510.5 L275.1 1512.7 M283.0 1516.3 L284.7 1517.0 L288.4 1514.3 M295.9 1509.0 L298.4 1507.2 L300.9 1504.6 M307.7 1499.2 L309.1 1501.4 L312.8 1502.5 M321.0 1505.0 L321.8 1505.3 L325.4 1500.2 M331.4 1491.8 L332.5 1490.3 L336.3 1493.5 M343.4 1499.6 L348.1 1504.8 M355.2 1510.0 L361.1 1509.7 M369.4 1509.3 L370.5 1509.2 L375.3 1509.5 M383.6 1510.0 L386.1 1510.1 L389.4 1508.5 M397.2 1504.5 L399.7 1503.3 L403.0 1503.5 M411.3 1504.0 L415.3 1504.3 L417.2 1503.5 M425.2 1500.1 L429.9 1498.1 L430.8 1497.4 M438.2 1491.9 L443.5 1487.9 M451.2 1489.5 L456.8 1492.5 M464.6 1496.8 L470.2 1499.8 M478.1 1500.7 L483.8 1498.1 M490.4 1491.4 L494.1 1484.8 M498.2 1491.5 L500.9 1499.1 M509.2 1498.6 L513.7 1498.1 L515.1 1498.8 M523.1 1503.1 L527.3 1505.3 L528.2 1503.7 M533.4 1494.2 L537.1 1487.4 M543.3 1479.2 L547.8 1473.6 M553.9 1477.1 L558.2 1483.2 M563.9 1492.0 L567.7 1498.6 M573.0 1508.1 L576.5 1515.0 M583.1 1521.2 L589.1 1523.1 M597.4 1525.7 L603.5 1525.7 M612.1 1525.1 L617.8 1522.1 M625.8 1517.9 L631.6 1514.9 M639.6 1510.6 L645.3 1507.4 M653.4 1503.0 L659.1 1500.0 M667.3 1496.1 L673.3 1494.2 M680.8 1489.2 L685.3 1483.3 M691.2 1474.7 L693.6 1466.8 M696.9 1455.7 L697.1 1455.0 L698.1 1447.4 M699.7 1435.6 L699.9 1434.1 L700.9 1427.2 M702.6 1415.5 L702.7 1414.5 L706.9 1409.6 M708.8 1419.6 L709.9 1428.0 M711.8 1439.7 L713.2 1448.0 M719.9 1452.3 L724.3 1452.9 L724.8 1450.6 M727.2 1439.0 L728.5 1432.7 L728.7 1430.8 M729.9 1418.9 L730.6 1411.7 L730.7 1410.5 M731.5 1398.5 L732.0 1390.8 L732.0 1390.1 M732.8 1378.1 L733.4 1369.8 L733.4 1369.7 M734.2 1357.7 L734.8 1349.3 M736.0 1337.4 L736.8 1328.9 M740.8 1318.3 L741.1 1317.5 L741.8 1325.0 M742.9 1336.9 L743.2 1340.5 L743.7 1345.4 M744.9 1357.2 L745.3 1361.5 L745.4 1365.7 M745.8 1377.7 L746.0 1382.4 L746.2 1386.2 M747.0 1398.1 L747.3 1403.4 L747.5 1406.6 M748.3 1418.5 L748.7 1424.3 L748.9 1427.0 M749.7 1439.0 L750.1 1445.3 L750.4 1447.4 M752.0 1459.2 L752.9 1466.2 L753.3 1467.5 M757.1 1478.3 L759.2 1484.4 L760.3 1485.3 M768.0 1491.1 L771.1 1493.4 L773.8 1494.0 M782.5 1496.0 L786.5 1496.9 L788.7 1497.4 M797.5 1499.2 L801.7 1500.1 L803.7 1500.0 M812.6 1499.7 L816.7 1499.5 L818.8 1500.2 M827.4 1503.0 L831.6 1504.4 L833.6 1503.9 M842.4 1501.8 L848.6 1500.4 M857.5 1499.4 L863.9 1498.8 M872.8 1498.8 L879.1 1499.3 M888.1 1500.3 L894.4 1501.2 M903.4 1502.7 L909.7 1504.0 M918.6 1505.9 L924.9 1507.3 M933.9 1508.4 L940.3 1507.9 M949.3 1506.7 L955.6 1505.0 M964.6 1503.0 L971.0 1502.6 M980.1 1502.3 L986.6 1502.5 M995.7 1503.7 L1002.0 1505.8 M1010.9 1508.1 L1017.4 1508.3 M1026.6 1508.8 L1033.1 1509.4 M1042.3 1509.8 L1048.7 1508.6 M1057.9 1506.9 L1059.9 1506.5 L1064.4 1506.2 M1073.6 1505.5 L1078.0 1505.2 L1080.1 1505.4 M1089.4 1506.0 L1096.0 1506.5 M1105.1 1508.6 L1111.1 1510.1 L1111.6 1510.2 M1120.8 1512.1 L1127.3 1513.5 M1136.5 1514.9 L1143.1 1515.4 M1152.5 1516.1 L1159.1 1516.3 M1168.4 1517.1 L1175.0 1518.0 M1184.4 1519.3 L1191.0 1520.4 M1200.3 1522.2 L1206.8 1524.1 M1216.0 1525.7 L1222.6 1524.6 M1232.0 1523.0 L1232.7 1522.9 L1238.7 1522.3 M1248.1 1521.2 L1248.5 1521.2 L1254.8 1520.8 M1264.3 1520.2 L1265.6 1520.1 L1270.9 1518.8 M1280.3 1516.6 L1280.5 1516.5 L1287.0 1516.5 M1296.6 1516.6 L1303.3 1517.0 M1312.9 1517.3 L1319.6 1517.0 M1329.2 1516.6 L1330.7 1516.5 L1336.0 1517.0 M1345.6 1517.9 L1346.7 1518.0 L1352.3 1517.2 M1361.9 1516.0 L1368.6 1517.4 M1378.2 1519.4 L1378.7 1519.5 L1385.0 1519.4 M1394.7 1519.1 L1395.7 1519.1 L1401.5 1519.4 M1411.2 1520.0 L1413.9 1520.1 L1418.1 1519.8 M1427.8 1519.0 L1432.0 1518.6 L1434.6 1518.7 M1444.4 1519.0 L1449.1 1519.1 L1451.3 1519.3 M1461.0 1520.3 L1466.2 1520.8 L1467.9 1520.8 M1477.7 1520.8 L1484.7 1520.8 M1494.5 1520.8 L1501.5 1520.8 M1511.4 1521.2 L1518.4 1521.5 M1528.3 1521.9 L1535.3 1522.1 M1545.2 1522.8 L1552.2 1523.6 M1562.2 1524.9 L1569.2 1526.0 M1579.1 1527.0 L1586.2 1526.5 M1596.3 1525.8 L1603.4 1525.6 M1613.3 1524.3 L1620.3 1522.3 M1630.3 1520.8 L1637.5 1520.4 M1647.6 1520.7 L1654.8 1521.5 M1665.0 1522.3 L1672.2 1522.3 M1682.4 1522.3 L1689.7 1522.4 M1699.9 1521.7 L1707.2 1520.8 M1716.7 1516.4 L1723.2 1512.6 M1730.0 1503.8 L1734.4 1497.0 M1742.8 1491.2 L1749.9 1489.2 M1759.5 1484.6 L1766.2 1481.1 M1773.9 1473.3 L1778.9 1466.9 M1784.1 1456.7 L1787.0 1448.9 M1792.1 1451.9 L1796.2 1459.1 M1802.1 1469.0 L1806.3 1476.0 M1813.2 1485.0 L1818.3 1491.2 M1827.1 1497.6 L1833.8 1501.6 M1843.1 1507.4 L1849.6 1511.6 M1859.7 1515.3 L1867.0 1517.6 M1877.5 1519.0 L1885.1 1519.2 M1895.7 1520.4 L1903.2 1521.9 M1913.9 1523.8 L1921.5 1525.1 M1932.2 1526.0 L1939.9 1526.0 M1950.8 1526.0 L1958.6 1526.1 M1969.6 1526.1 L1977.4 1526.1 M1988.4 1526.2 L1996.2 1526.2 M2007.3 1526.2 L2015.1 1526.3 M2026.1 1526.3 L2033.9 1526.4 M2044.9 1526.4 L2052.7 1526.4 M2063.7 1526.5 L2071.5 1526.5 M2082.5 1526.5 L2090.3 1526.6 M2101.3 1526.6 L2109.1 1526.7 M2120.1 1526.7 L2127.9 1526.7 M2138.9 1526.8 L2146.7 1526.8 M2157.7 1526.8 L2165.5 1526.9 M2176.5 1526.9 L2184.3 1527.0 M2195.3 1527.0 L2196.0 1527.0" stroke="#0000c0" stroke-width="3.8"/>
</g>
</svg>
</body></html>
